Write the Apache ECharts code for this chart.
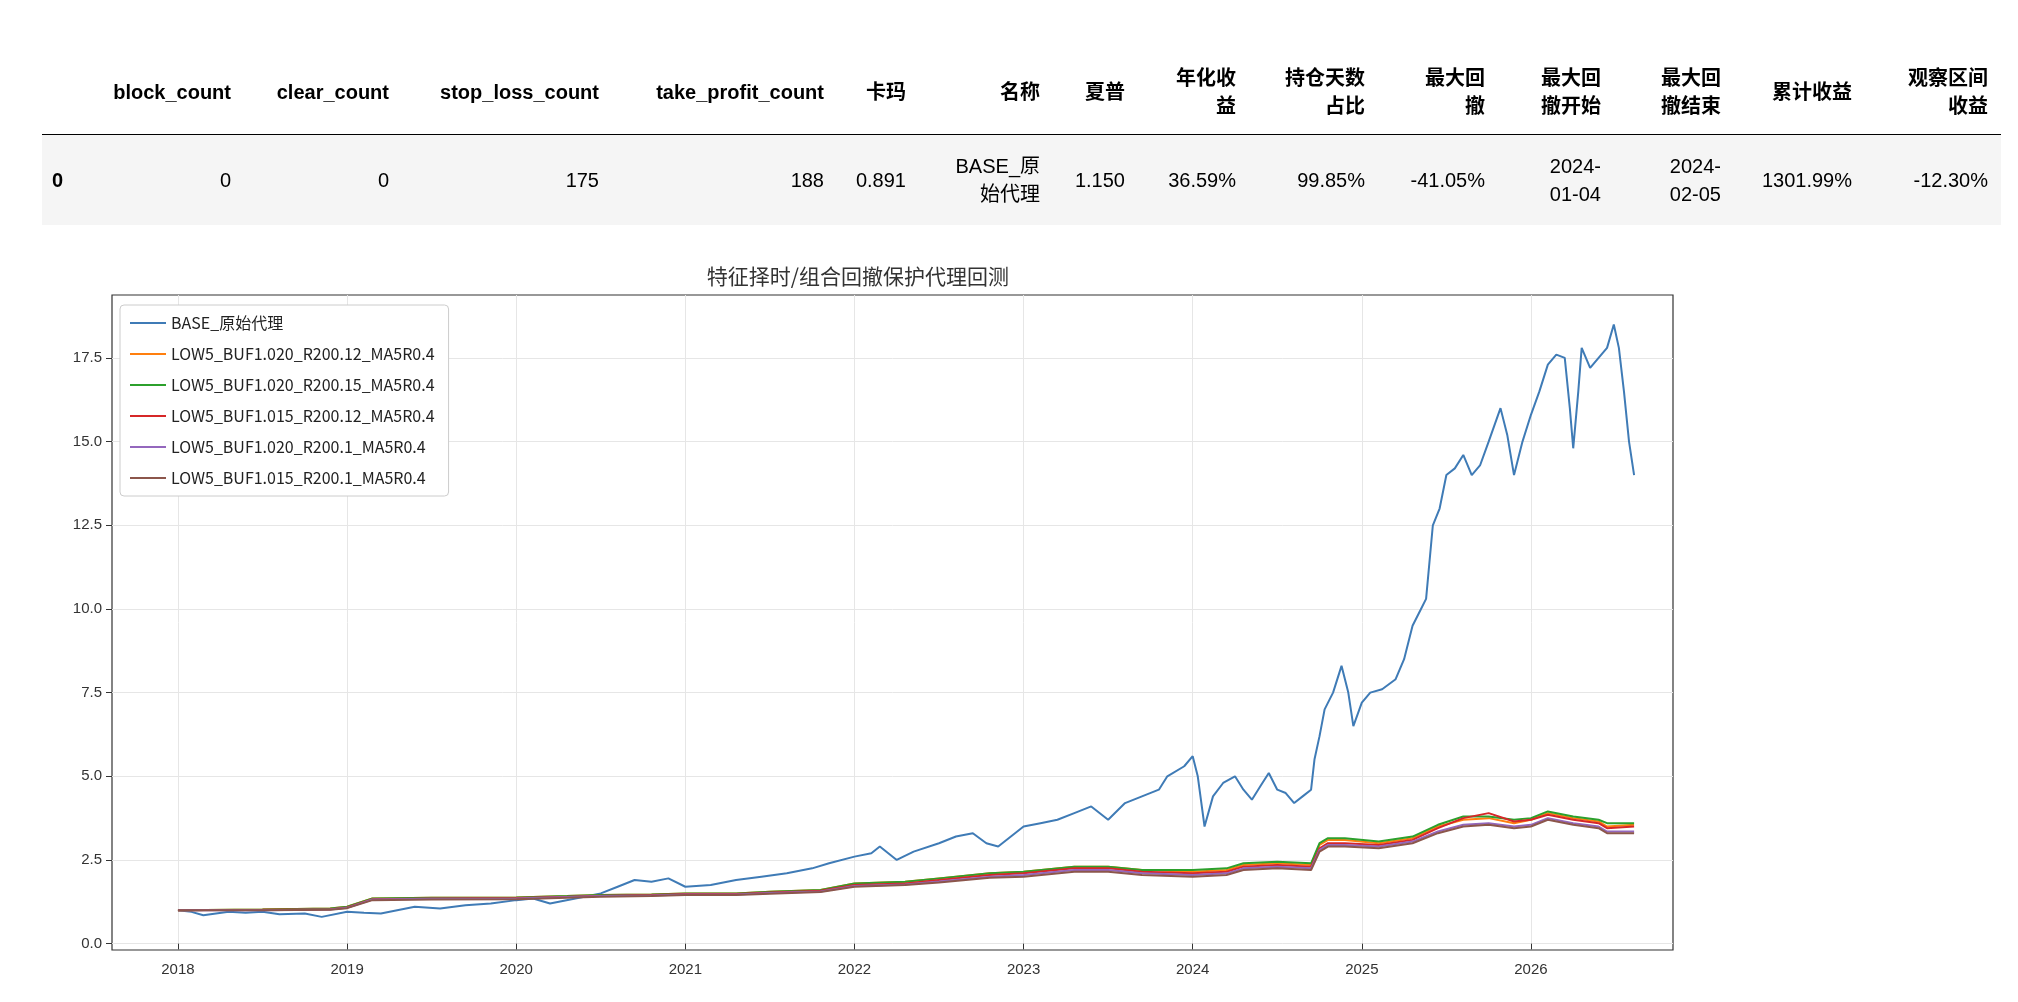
<!DOCTYPE html>
<html><head><meta charset="utf-8">
<script src="https://cdn.jsdelivr.net/npm/echarts@6/dist/echarts.min.js"></script>
<style>
body{margin:0;width:2018px;height:1002px;background:#fff;font-family:"Liberation Sans",Arial,"Noto Sans CJK SC",sans-serif;overflow:hidden}
#chart{position:absolute;left:0;top:0;width:2018px;height:1002px}
table{position:absolute;left:42px;top:50px;border-collapse:collapse;table-layout:fixed;font-size:20px;color:#000;z-index:2}
th,td{text-align:right;padding:0 13px 0 0;vertical-align:middle;line-height:28px}
thead th{height:84px;border-bottom:1.5px solid #000;font-weight:bold}
tbody td{height:90px;background:#f5f5f5}
tbody th{background:#f5f5f5;text-align:left;padding-left:10px}
</style></head><body>
<div id="chart"></div>
<table id="tbl"></table>
<script>
// ---- table data ----
const tableHeaders = ['', 'block_count', 'clear_count', 'stop_loss_count', 'take_profit_count', '卡玛', '名称', '夏普', '年化收<br>益', '持仓天数<br>占比', '最大回<br>撤', '最大回<br>撤开始', '最大回<br>撤结束', '累计收益', '观察区间<br>收益'];
const tableRow = ['0', '0', '0', '175', '188', '0.891', 'BASE_原<br>始代理', '1.150', '36.59%', '99.85%', '-41.05%', '2024-<br>01-04', '2024-<br>02-05', '1301.99%', '-12.30%'];
const colWidths = [41, 161, 158, 210, 225, 82, 134, 85, 111, 129, 120, 116, 120, 131, 136];

// ---- chart data ----
const seriesNames = ['BASE_原始代理', 'LOW5_BUF1.020_R200.12_MA5R0.4', 'LOW5_BUF1.020_R200.15_MA5R0.4', 'LOW5_BUF1.015_R200.12_MA5R0.4', 'LOW5_BUF1.020_R200.1_MA5R0.4', 'LOW5_BUF1.015_R200.1_MA5R0.4'];
const baseDates = [2018.0,2018.08,2018.15,2018.3,2018.4,2018.5,2018.6,2018.75,2018.85,2019.0,2019.1,2019.2,2019.4,2019.55,2019.7,2019.85,2020.0,2020.1,2020.2,2020.35,2020.5,2020.6,2020.7,2020.8,2020.9,2021.0,2021.15,2021.3,2021.45,2021.6,2021.75,2021.85,2022.0,2022.1,2022.15,2022.25,2022.35,2022.5,2022.6,2022.7,2022.78,2022.85,2023.0,2023.1,2023.2,2023.3,2023.4,2023.5,2023.6,2023.7,2023.8,2023.85,2023.95,2024.0,2024.03,2024.07,2024.12,2024.18,2024.25,2024.3,2024.35,2024.4,2024.45,2024.5,2024.55,2024.6,2024.65,2024.7,2024.72,2024.75,2024.78,2024.83,2024.88,2024.92,2024.95,2025.0,2025.05,2025.12,2025.2,2025.25,2025.3,2025.35,2025.38,2025.42,2025.46,2025.5,2025.55,2025.6,2025.65,2025.7,2025.75,2025.82,2025.86,2025.9,2025.95,2026.0,2026.05,2026.1,2026.15,2026.2,2026.23,2026.25,2026.28,2026.3,2026.35,2026.4,2026.45,2026.49,2026.52,2026.55,2026.58,2026.61];
const baseVals  = [1.0,0.95,0.85,0.95,0.92,0.95,0.88,0.9,0.8,0.95,0.92,0.9,1.1,1.05,1.15,1.2,1.3,1.35,1.2,1.35,1.5,1.7,1.9,1.85,1.95,1.7,1.75,1.9,2.0,2.1,2.25,2.4,2.6,2.7,2.9,2.5,2.75,3.0,3.2,3.3,3.0,2.9,3.5,3.6,3.7,3.9,4.1,3.7,4.2,4.4,4.6,5.0,5.3,5.6,5.0,3.5,4.4,4.8,5.0,4.6,4.3,4.7,5.1,4.6,4.5,4.2,4.4,4.6,5.5,6.2,7.0,7.5,8.3,7.5,6.5,7.2,7.5,7.6,7.9,8.5,9.5,10.0,10.3,12.5,13.0,14.0,14.2,14.6,14.0,14.3,15.0,16.0,15.2,14.0,15.0,15.8,16.5,17.3,17.6,17.5,16.0,14.8,16.5,17.8,17.2,17.5,17.8,18.5,17.8,16.5,15.0,14.0];
const stratDates = [2018.0,2018.5,2018.9,2019.0,2019.15,2019.5,2020.0,2020.3,2020.5,2020.8,2021.0,2021.3,2021.5,2021.8,2022.0,2022.3,2022.5,2022.8,2023.0,2023.3,2023.5,2023.7,2024.0,2024.2,2024.3,2024.5,2024.7,2024.75,2024.8,2024.9,2025.1,2025.3,2025.45,2025.6,2025.75,2025.9,2026.0,2026.1,2026.25,2026.4,2026.45,2026.61];
const orangeVals = [1.0,1.02,1.05,1.1,1.35,1.37,1.38,1.42,1.45,1.47,1.5,1.5,1.55,1.6,1.8,1.85,1.95,2.1,2.15,2.3,2.3,2.2,2.15,2.2,2.35,2.4,2.35,2.95,3.1,3.1,3.0,3.15,3.5,3.7,3.75,3.6,3.7,3.9,3.75,3.65,3.5,3.55];
const greenVals  = [1.0,1.02,1.05,1.1,1.35,1.37,1.38,1.42,1.45,1.47,1.5,1.5,1.55,1.6,1.8,1.85,1.95,2.1,2.15,2.3,2.3,2.2,2.2,2.25,2.4,2.45,2.4,3.0,3.15,3.15,3.05,3.2,3.55,3.8,3.8,3.7,3.75,3.95,3.8,3.7,3.6,3.6];
const redVals    = [1.0,1.01,1.03,1.08,1.33,1.35,1.36,1.4,1.43,1.45,1.48,1.48,1.53,1.58,1.75,1.8,1.9,2.05,2.1,2.25,2.25,2.15,2.1,2.15,2.3,2.35,2.3,2.85,3.0,3.0,2.95,3.1,3.45,3.75,3.9,3.65,3.7,3.85,3.7,3.6,3.45,3.5];
const purpleVals = [1.0,1.0,1.02,1.07,1.32,1.34,1.35,1.39,1.42,1.44,1.47,1.47,1.51,1.56,1.72,1.77,1.86,2.0,2.05,2.2,2.2,2.1,2.05,2.1,2.25,2.3,2.25,2.8,2.95,2.95,2.9,3.05,3.35,3.55,3.6,3.5,3.55,3.75,3.6,3.5,3.35,3.35];
const brownVals  = [1.0,1.0,1.01,1.06,1.3,1.32,1.33,1.37,1.4,1.42,1.45,1.45,1.49,1.54,1.7,1.75,1.83,1.97,2.0,2.15,2.15,2.05,2.0,2.05,2.2,2.25,2.2,2.75,2.9,2.9,2.85,3.0,3.3,3.5,3.55,3.45,3.5,3.7,3.55,3.45,3.3,3.3];
const yTicks = [0, 2.5, 5, 7.5, 10, 12.5, 15, 17.5];
const xTicks = [2018, 2019, 2020, 2021, 2022, 2023, 2024, 2025, 2026];
const colors = ['#3f7bb6', '#ff7f0e', '#2ca02c', '#d62728', '#9467bd', '#8c564b'];

// build table
let h = '<colgroup>' + colWidths.map(w => '<col style="width:' + w + 'px">').join('') + '</colgroup>';
h += '<thead><tr>' + tableHeaders.map(t => '<th>' + t + '</th>').join('') + '</tr></thead>';
h += '<tbody><tr>' + tableRow.map((t, i) => i === 0 ? '<th>' + t + '</th>' : '<td>' + t + '</td>').join('') + '</tr></tbody>';
document.getElementById('tbl').innerHTML = h;

const zip = (xs, ys) => xs.map((x, i) => [x, ys[i]]);
const allVals = [baseVals, orangeVals, greenVals, redVals, purpleVals, brownVals];
const chart = echarts.init(document.getElementById('chart'));
const font = '"Noto Sans CJK SC", sans-serif';
chart.setOption({
  animation: false,
  title: { text: '特征择时/组合回撤保护代理回测', left: 'center', top: 261, textStyle: { fontSize: 21, fontWeight: 'normal', color: '#333', fontFamily: font }, textAlign: 'center' },
  grid: { left: 112, right: 345, top: 295, bottom: 52, show: true, borderColor: '#333', borderWidth: 1.2, backgroundColor: 'transparent' },
  legend: {
    orient: 'vertical', left: 120, top: 305, padding: [10, 14, 10, 10],
    backgroundColor: '#fff', borderColor: '#ccc', borderWidth: 1, borderRadius: 4,
    itemWidth: 36, itemHeight: 2, itemGap: 15, icon: 'rect',
    textStyle: { fontSize: 16, color: '#222', fontFamily: font },
    data: seriesNames
  },
  xAxis: {
    type: 'value', min: 2017.61, max: 2026.84,
    axisLine: { show: false },
    axisTick: { show: true, customValues: xTicks, length: 6, lineStyle: { color: '#333' } },
    axisLabel: { customValues: xTicks, formatter: v => String(Math.round(v)), fontSize: 15, color: '#333', margin: 12 },
    splitLine: { show: true, lineStyle: { color: '#e6e6e6' } }
  },
  yAxis: {
    type: 'value', min: -0.19, max: 19.38,
    axisLine: { show: false },
    axisTick: { show: true, customValues: yTicks, length: 6, lineStyle: { color: '#333' } },
    axisLabel: { customValues: yTicks, formatter: v => v.toFixed(1), fontSize: 15, color: '#333', margin: 10 },
    splitLine: { show: true, lineStyle: { color: '#e6e6e6' } }
  },
  series: seriesNames.map((n, i) => ({
    name: n, type: 'line', showSymbol: false, symbol: 'none', z: 2 + i,
    data: zip(i === 0 ? baseDates : stratDates, allVals[i]),
    lineStyle: { width: 2, color: colors[i] }, itemStyle: { color: colors[i] }
  }))
});
</script>
</body></html>
